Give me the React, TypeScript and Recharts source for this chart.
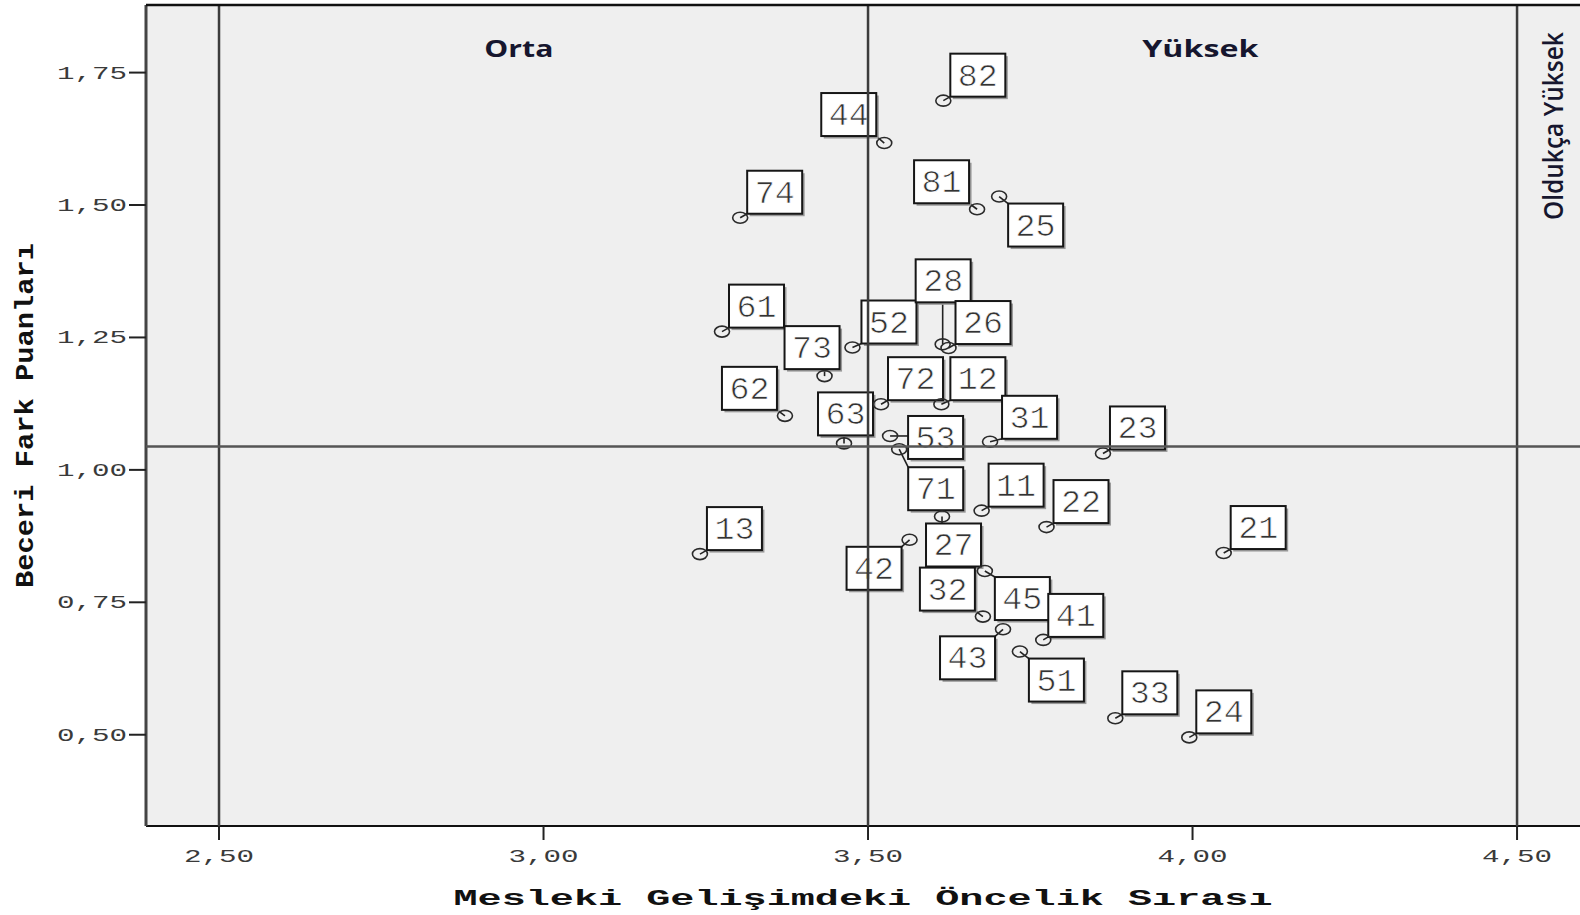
import React from "react";
import {
  ScatterChart,
  Scatter,
  XAxis,
  YAxis,
  CartesianGrid,
  ReferenceLine,
  ReferenceDot,
  Label,
} from "recharts";

// respondent / item codes with their coordinates
const ids = [
  "82", "44", "74", "81", "25", "61", "73", "62", "52", "28", "26",
  "72", "12", "63", "53", "71", "31", "23", "13", "11", "22", "21",
  "27", "42", "45", "32", "43", "41", "51", "33", "24",
];

// Mesleki Gelişimdeki Öncelik Sırası
const xValues = [
  3.616, 3.525, 3.303, 3.668, 3.702, 3.275, 3.433, 3.372, 3.476, 3.615, 3.624,
  3.52, 3.613, 3.463, 3.534, 3.548, 3.688, 3.862, 3.241, 3.675, 3.775, 4.048,
  3.614, 3.564, 3.68, 3.677, 3.708, 3.77, 3.734, 3.881, 3.995,
];

// Beceri Fark Puanları
const yValues = [
  1.697, 1.617, 1.476, 1.492, 1.516, 1.261, 1.177, 1.102, 1.231, 1.237, 1.23,
  1.124, 1.124, 1.05, 1.064, 1.039, 1.053, 1.031, 0.841, 0.923, 0.892, 0.843,
  0.912, 0.868, 0.809, 0.723, 0.699, 0.679, 0.657, 0.531, 0.495,
];

const xTicks = [2.5, 3.0, 3.5, 4.0, 4.5];
const yTicks = [0.5, 0.75, 1.0, 1.25, 1.5, 1.75];

// zone boundaries and the mean line
const zoneBounds = [2.5, 3.5, 4.5];
const meanY = 1.044;

const points = ids.map((id, i) => ({ id, x: xValues[i], y: yValues[i] }));

const X_DOMAIN: [number, number] = [2.3875, 4.597];
const Y_DOMAIN: [number, number] = [0.3277, 1.8776];

// where each label box sits (top-left corner, px from the marker)
const UR: [number, number] = [7, -47];
const UL: [number, number] = [-63, -49];
const LR: [number, number] = [9, 7];
const LL: [number, number] = [-63, 7];
const labelOffsets: Record<string, [number, number]> = {
  "82": UR, "44": [-63, -50], "74": UR, "81": UL, "25": LR,
  "61": UR, "73": [-40, -50], "62": UL, "52": [9, -47], "28": [-27, -85],
  "26": UR, "72": UR, "12": [9, -47], "63": [-26, -51], "53": [18, -20],
  "71": [9, 18], "31": [12, -46], "23": UR, "13": UR, "11": UR,
  "22": UR, "21": UR, "27": [-16, 7], "42": LL, "45": [10, 6],
  "32": UL, "43": LL, "41": [5, -46], "51": LR, "33": UR, "24": UR,
};

const BOX_W = 55;
const BOX_H = 43;

const fmt = (v: number) => v.toFixed(2).replace(".", ",");

const MONO = '"Liberation Mono", "Courier New", monospace';
const SANS = '"Open Sans", "Liberation Sans", sans-serif';

function LabelBox(props: any) {
  const { cx, cy, payload } = props;
  if (cx == null || cy == null) return null;
  const [dx, dy] = labelOffsets[payload.id] ?? UR;
  const bx = cx + dx;
  const by = cy + dy;
  // leader runs to the nearest point on the box
  const lx = Math.min(Math.max(cx, bx), bx + BOX_W);
  const ly = Math.min(Math.max(cy, by), by + BOX_H);
  return (
    <g>
      <line x1={cx} y1={cy} x2={lx} y2={ly} stroke="#222" strokeWidth={1.6} />
      <rect x={bx + 2.5} y={by + 2.5} width={BOX_W} height={BOX_H} fill="#9a9a9a" />
      <rect x={bx} y={by} width={BOX_W} height={BOX_H} fill="#fff" stroke="#161616" strokeWidth={2} />
      <text
        x={bx + BOX_W / 2}
        y={by + 32}
        textAnchor="middle"
        fontFamily={MONO}
        fontSize={32}
        textLength={40}
        lengthAdjust="spacingAndGlyphs"
        fill="#333"
        stroke="#fff"
        strokeWidth={0.7}
      >
        {payload.id}
      </text>
    </g>
  );
}

function Marker(props: any) {
  const { cx, cy } = props;
  if (cx == null || cy == null) return null;
  return <ellipse cx={cx} cy={cy} rx={7.5} ry={5.5} fill="none" stroke="#2a2a2a" strokeWidth={1.6} />;
}

function XTick(props: any) {
  const { x, y, payload } = props;
  return (
    <text
      x={x}
      y={y + 22}
      textAnchor="middle"
      fontFamily={MONO}
      fontSize={19}
      textLength={70}
      lengthAdjust="spacingAndGlyphs"
      fill="#3a3a3a"
    >
      {fmt(payload.value)}
    </text>
  );
}

function YTick(props: any) {
  const { x, y, payload } = props;
  return (
    <text
      x={x - 35}
      y={y + 6}
      textAnchor="middle"
      fontFamily={MONO}
      fontSize={19}
      textLength={70}
      lengthAdjust="spacingAndGlyphs"
      fill="#3a3a3a"
    >
      {fmt(payload.value)}
    </text>
  );
}

function ZoneText({ viewBox, text, width, size, weight, vertical }: any) {
  if (!viewBox) return null;
  const cx = viewBox.x + viewBox.width / 2;
  const cy = viewBox.y + viewBox.height / 2;
  if (vertical) {
    return (
      <text
        x={cx + 13}
        y={cy}
        transform={`rotate(-90 ${cx + 13} ${cy})`}
        textAnchor="middle"
        fontFamily={SANS}
        fontWeight={weight}
        fontSize={size}
        textLength={width}
        lengthAdjust="spacingAndGlyphs"
        fill="#16162e"
      >
        {text}
      </text>
    );
  }
  return (
    <text
      x={cx}
      y={cy + 8}
      textAnchor="middle"
      fontFamily={SANS}
      fontWeight={weight}
      fontSize={size}
      textLength={width}
      lengthAdjust="spacingAndGlyphs"
      fill="#16162e"
    >
      {text}
    </text>
  );
}

export default function App() {
  return (
    <div style={{ width: 1580, height: 915, background: "#fff" }}>
      <style>{"body{margin:0}"}</style>
      <ScatterChart width={1580} height={915} margin={{ top: 5, right: 0, bottom: 0, left: 0 }}>
        <CartesianGrid horizontal={false} vertical={false} fill="#efefef" />
        <XAxis
          type="number"
          dataKey="x"
          domain={X_DOMAIN}
          ticks={xTicks}
          allowDataOverflow
          height={89}
          tickSize={14}
          tickMargin={0}
          axisLine={{ stroke: "#111", strokeWidth: 2 }}
          tickLine={{ stroke: "#222", strokeWidth: 2 }}
          tick={<XTick />}
        >
          <Label
            content={(p: any) => (
              <text
                x={p.viewBox.x + p.viewBox.width / 2}
                y={p.viewBox.y + 79}
                textAnchor="middle"
                fontFamily={MONO}
                fontWeight="bold"
                fontSize={22}
                textLength={819}
                lengthAdjust="spacingAndGlyphs"
                fill="#111"
              >
                Mesleki Gelişimdeki Öncelik Sırası
              </text>
            )}
          />
        </XAxis>
        <YAxis
          type="number"
          dataKey="y"
          domain={Y_DOMAIN}
          ticks={yTicks}
          allowDataOverflow
          width={146}
          tickSize={17}
          tickMargin={2}
          axisLine={{ stroke: "#444", strokeWidth: 3 }}
          tickLine={{ stroke: "#222", strokeWidth: 2 }}
          tick={<YTick />}
        >
          <Label
            content={(p: any) => {
              const cy = p.viewBox.y + p.viewBox.height / 2;
              return (
                <text
                  x={33}
                  y={cy}
                  transform={`rotate(-90 33 ${cy})`}
                  textAnchor="middle"
                  fontFamily={MONO}
                  fontWeight="bold"
                  fontSize={26}
                  textLength={345}
                  lengthAdjust="spacingAndGlyphs"
                  fill="#111"
                >
                  Beceri Fark Puanları
                </text>
              );
            }}
          />
        </YAxis>
        <Scatter data={points} shape={<LabelBox />} isAnimationActive={false} />
        <Scatter data={points} shape={<Marker />} isAnimationActive={false} />
        {/* zone lines sit on top of the label boxes */}
        {zoneBounds.map((v) => (
          <ReferenceLine key={v} x={v} stroke="#3c3c3c" strokeWidth={2.5} zIndex={700} />
        ))}
        <ReferenceLine y={meanY} stroke="#555" strokeWidth={2.5} zIndex={700} />
        <ReferenceLine y={Y_DOMAIN[1]} stroke="#111" strokeWidth={2.5} zIndex={700} />
        <ReferenceDot x={2.962} y={1.795} r={1} fill="none" stroke="none"
          label={(p: any) => <ZoneText viewBox={p.viewBox} text="Orta" width={69} size={23} weight={700} />} />
        <ReferenceDot x={4.012} y={1.795} r={1} fill="none" stroke="none"
          label={(p: any) => <ZoneText viewBox={p.viewBox} text="Yüksek" width={116} size={23} weight={700} />} />
        <ReferenceDot x={4.551} y={1.649} r={1} fill="none" stroke="none"
          label={(p: any) => <ZoneText viewBox={p.viewBox} text="Oldukça Yüksek" width={188} size={27} weight={600} vertical />} />
      </ScatterChart>
    </div>
  );
}
